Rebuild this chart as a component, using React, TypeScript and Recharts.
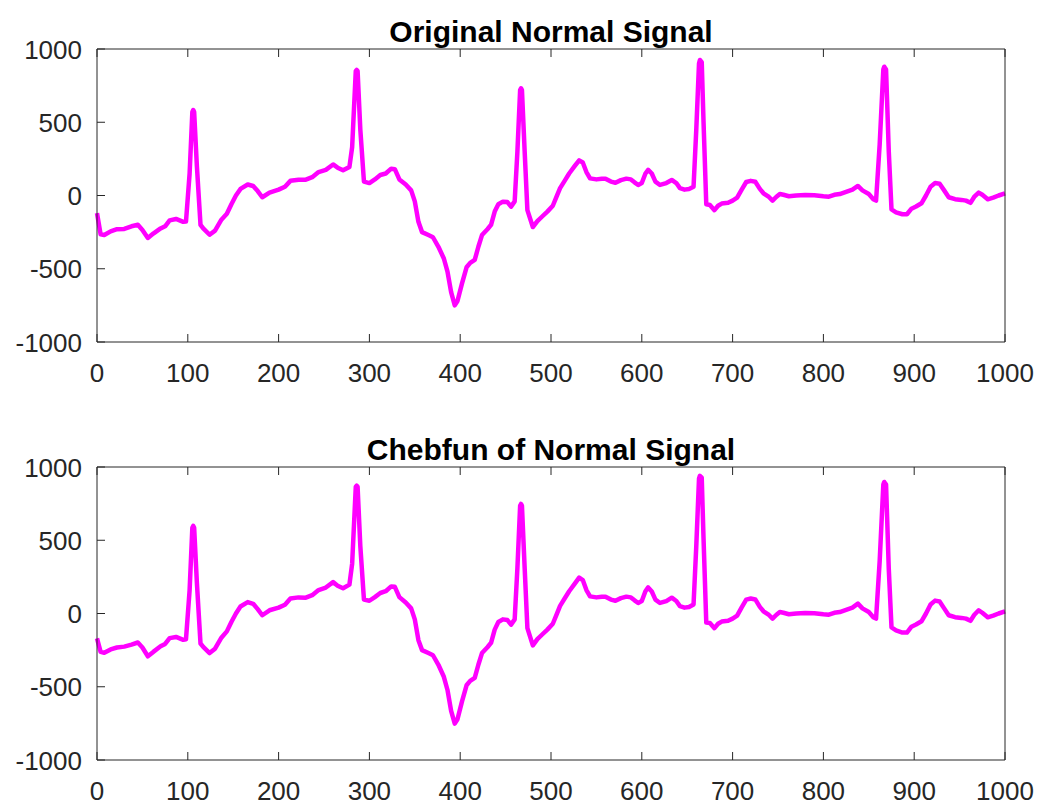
import { LineChart, Line, XAxis, YAxis } from "recharts";

// sample positions (x) shared by both panels
const sampleX = [
  0, 4, 8, 15, 22, 30, 38, 45, 50, 56,
  62, 70, 75, 80, 87, 95, 98, 102, 105, 106,
  107, 110, 114, 117, 124, 130, 137, 143, 148, 153,
  158, 166, 172, 177, 182, 190, 200, 207, 213, 222,
  230, 237, 244, 252, 260, 265, 271, 278, 281, 285,
  286, 287, 290, 294, 300, 306, 312, 318, 324, 328,
  333, 340, 346, 350, 354, 358, 365, 370, 376, 382,
  386, 390, 394, 397, 402, 407, 411, 416, 420, 424,
  430, 434, 438, 442, 447, 452, 456, 460, 463, 466,
  467, 468, 471, 474, 480, 485, 490, 496, 502, 506,
  510, 515, 520, 526, 531, 535, 539, 543, 550, 556,
  560, 566, 571, 577, 583, 588, 592, 596, 600, 604,
  607, 611, 615, 620, 627, 633, 638, 642, 647, 652,
  657, 660, 663, 664, 666, 668, 671, 675, 680, 684,
  688, 695, 700, 705, 710, 715, 720, 725, 730, 734,
  740, 744, 748, 752, 756, 762, 770, 780, 790, 800,
  806, 812, 818, 825, 832, 838, 843, 850, 855, 858,
  862, 866, 867, 869, 872, 875, 880, 887, 892, 897,
  902, 908, 913, 918, 923, 928, 933, 938, 945, 952,
  957, 962, 966, 971, 975, 981, 987, 993, 1000,
];

const originalSignal = [
  -120, -265, -270, -245, -230, -228, -210, -200, -235, -290,
  -260, -225, -210, -170, -160, -180, -178, 150, 570, 583,
  570, 200, -200, -225, -268, -240, -165, -125, -60, 0,
  45, 75, 65, 30, -12, 20, 40, 60, 100, 108,
  108, 125, 160, 175, 212, 190, 172, 195, 330, 850,
  857, 850, 450, 95, 85, 110, 140, 150, 183, 180,
  110, 75, 35, -40, -180, -250, -270, -285, -350, -430,
  -520, -660, -750, -720, -600, -490, -460, -440, -350, -270,
  -230, -200, -110, -60, -42, -45, -76, -40, 300, 720,
  732, 720, 300, -100, -215, -175, -145, -110, -70, -10,
  50, 100, 150, 200, 240, 225, 160, 117, 110, 115,
  115, 95, 87, 105, 115, 110, 90, 72, 85, 150,
  175, 150, 95, 72, 85, 106, 85, 50, 40, 45,
  60, 450, 900, 925, 910, 500, -60, -65, -100, -70,
  -55, -50, -35, -15, 40, 92, 100, 94, 45, 15,
  -10, -35, -10, 10, 5, -5, 0, 3, 2, -5,
  -8, 5, 10, 25, 40, 65, 35, 10, -25, -35,
  350, 860, 879, 860, 300, -95, -115, -128, -128, -90,
  -75, -53, 0, 60, 85, 80, 35, -12, -25, -30,
  -35, -50, -10, 20, 5, -26, -15, 0, 15,
];

const chebfunSignal = [
  -170, -262, -268, -245, -232, -226, -212, -198, -232, -292,
  -262, -224, -208, -168, -160, -180, -176, 160, 585, 598,
  585, 210, -205, -228, -270, -240, -165, -122, -58, 0,
  48, 78, 66, 30, -12, 22, 40, 60, 102, 110,
  108, 125, 160, 177, 214, 190, 172, 197, 340, 865,
  872, 865, 460, 95, 87, 112, 140, 152, 185, 182,
  112, 75, 35, -40, -182, -250, -270, -285, -350, -432,
  -522, -665, -752, -722, -600, -490, -460, -440, -350, -270,
  -230, -200, -110, -58, -40, -45, -76, -40, 310, 735,
  748, 735, 310, -100, -218, -175, -145, -110, -70, -10,
  52, 102, 152, 202, 245, 228, 160, 117, 110, 115,
  115, 95, 87, 105, 115, 110, 90, 72, 85, 152,
  178, 150, 95, 72, 85, 108, 85, 50, 40, 45,
  62, 460, 920, 940, 928, 510, -62, -65, -100, -70,
  -55, -50, -35, -15, 42, 95, 102, 96, 45, 15,
  -10, -35, -10, 10, 5, -5, 0, 3, 2, -5,
  -8, 5, 10, 25, 40, 67, 35, 10, -25, -35,
  360, 880, 898, 880, 305, -95, -115, -130, -130, -90,
  -75, -53, 0, 62, 88, 82, 35, -12, -25, -30,
  -35, -50, -10, 22, 5, -26, -15, 0, 15,
];

const xTicks = [0, 100, 200, 300, 400, 500, 600, 700, 800, 900, 1000];
const yTicks = [-1000, -500, 0, 500, 1000];

const FONT = '"Liberation Sans", Arial, Helvetica, sans-serif';
const AXIS = "#262626";
const TICK_LEN = 8;
const LABEL_SIZE = 26;

const W = 1039;
const H = 403;

const BottomTick = (props: any) => {
  const { x, y, payload } = props;
  return (
    <g>
      <line x1={x} y1={y} x2={x} y2={y - TICK_LEN} stroke={AXIS} strokeWidth={1} />
      <text x={x} y={y + 40} textAnchor="middle" fontSize={LABEL_SIZE} fill={AXIS} fontFamily={FONT}>
        {payload.value}
      </text>
    </g>
  );
};

const TopTick = (props: any) => {
  const { x, y } = props;
  return <line x1={x} y1={y} x2={x} y2={y + TICK_LEN} stroke={AXIS} strokeWidth={1} />;
};

const LeftTick = (props: any) => {
  const { x, y, payload } = props;
  return (
    <g>
      <line x1={x} y1={y} x2={x + TICK_LEN} y2={y} stroke={AXIS} strokeWidth={1} />
      <text x={x - 15} y={y + 9.5} textAnchor="end" fontSize={LABEL_SIZE} fill={AXIS} fontFamily={FONT}>
        {payload.value}
      </text>
    </g>
  );
};

const RightTick = (props: any) => {
  const { x, y } = props;
  return <line x1={x} y1={y} x2={x - TICK_LEN} y2={y} stroke={AXIS} strokeWidth={1} />;
};

const Panel = ({ values, top, marginTop, marginBottom }: any) => {
  const rows = sampleX.map((x, i) => ({ x, v: values[i] }));
  return (
    <div style={{ position: "absolute", left: 0, top }}>
      <LineChart
        width={W}
        height={H}
        data={rows}
        margin={{ top: marginTop - 1, right: 33, bottom: marginBottom - 1, left: 96 }}
      >
        <XAxis
          xAxisId="b"
          dataKey="x"
          type="number"
          domain={[0, 1000]}
          ticks={xTicks}
          interval={0}
          height={1}
          tickSize={0}
          tickMargin={0}
          tickLine={false}
          axisLine={{ stroke: AXIS, strokeWidth: 1 }}
          tick={<BottomTick />}
        />
        <XAxis
          xAxisId="t"
          orientation="top"
          dataKey="x"
          type="number"
          domain={[0, 1000]}
          ticks={xTicks}
          interval={0}
          height={1}
          tickSize={0}
          tickMargin={0}
          tickLine={false}
          axisLine={{ stroke: AXIS, strokeWidth: 1 }}
          tick={<TopTick />}
        />
        <YAxis
          yAxisId="l"
          type="number"
          domain={[-1000, 1000]}
          ticks={yTicks}
          interval={0}
          width={1}
          tickSize={0}
          tickMargin={0}
          tickLine={false}
          axisLine={{ stroke: AXIS, strokeWidth: 1 }}
          tick={<LeftTick />}
        />
        <YAxis
          yAxisId="r"
          orientation="right"
          type="number"
          domain={[-1000, 1000]}
          ticks={yTicks}
          interval={0}
          width={1}
          tickSize={0}
          tickMargin={0}
          tickLine={false}
          axisLine={{ stroke: AXIS, strokeWidth: 1 }}
          tick={<RightTick />}
        />
        <Line
          xAxisId="b"
          yAxisId="l"
          type="linear"
          dataKey="v"
          stroke="#ff00ff"
          strokeWidth={4.5}
          strokeLinejoin="round"
          dot={false}
          activeDot={false}
          isAnimationActive={false}
        />
      </LineChart>
    </div>
  );
};

export default function App() {
  return (
    <div style={{ position: "absolute", left: 0, top: 0, width: W, height: 806, background: "#fff" }}>
      <Panel values={originalSignal} top={0} marginTop={49} marginBottom={61} />
      <Panel values={chebfunSignal} top={403} marginTop={64} marginBottom={46} />
      <svg
        width={W}
        height={806}
        style={{ position: "absolute", left: 0, top: 0, pointerEvents: "none" }}
      >
        <text x={551} y={42} textAnchor="middle" fontSize={30} fontWeight="bold" fill="#000" fontFamily={FONT}>
          Original Normal Signal
        </text>
        <text x={551} y={460} textAnchor="middle" fontSize={30} fontWeight="bold" fill="#000" fontFamily={FONT}>
          Chebfun of Normal Signal
        </text>
      </svg>
    </div>
  );
}
